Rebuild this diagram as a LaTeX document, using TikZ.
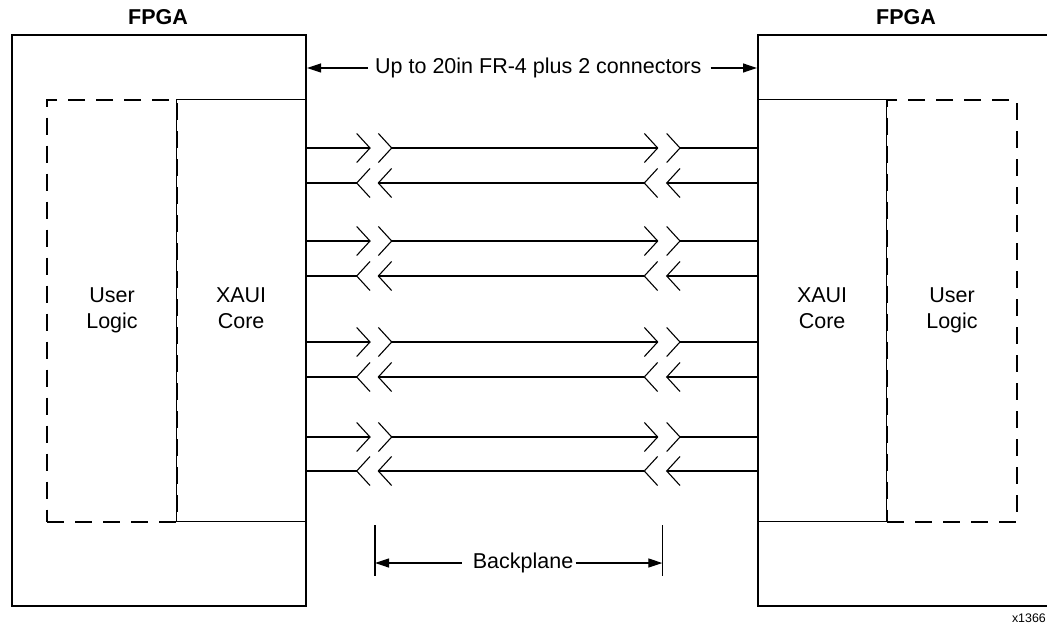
\documentclass[tikz,border=0pt]{standalone}
\usepackage{fontspec}
\setmainfont{Liberation Sans}
\usetikzlibrary{arrows.meta}
\begin{document}
\begin{tikzpicture}[x=1pt,y=-1pt,
  outerbox/.style={draw,line width=2pt,inner sep=0pt,anchor=north west},
  corebox/.style={draw,line width=1.2pt,inner sep=0pt,anchor=north west,align=center,font=\fontsize{21.5}{26}\selectfont},
  userbox/.style={draw,line width=2pt,dash pattern=on 17pt off 11pt,inner sep=0pt,anchor=north west,align=center,font=\fontsize{21.5}{26}\selectfont},
  title/.style={font=\fontsize{21.5}{26}\selectfont\bfseries},
  lbl/.style={font=\fontsize{21.5}{26}\selectfont,inner sep=0pt},
  lane/.style={line width=1.1pt},
  chev/.style={line width=1.1pt},
  dim/.style={line width=1.2pt},
  tip/.style={-{Triangle[length=14pt,width=9pt]}}
]
\useasboundingbox (0,0) rectangle (1047,626);
\begin{scope}
\clip (0,0) rectangle (1047,626);
% FPGA boxes
\node[outerbox,minimum width=294pt,minimum height=571pt] (fl) at (11,34) {};
\node[outerbox,minimum width=299pt,minimum height=571pt] (fr) at (757,34) {};
\node[title] (tl) at (158,17) {FPGA};
\node[title] (tr) at (906,17) {FPGA};
% inner blocks
\node[userbox,minimum width=130pt,minimum height=422pt] (ul) at (46,98.5) {User\\Logic};
\node[corebox,minimum width=129pt,minimum height=422pt] (xl) at (176,98.5) {XAUI\\Core\vphantom{g}};
\node[corebox,minimum width=129pt,minimum height=422pt] (xr) at (757,98.5) {XAUI\\Core\vphantom{g}};
\node[userbox,minimum width=130pt,minimum height=422pt] (ur) at (886,98.5) {User\\Logic};
\end{scope}
% lanes
\foreach \i/\ya/\yb in {1/148/183, 2/241/276, 3/342/377, 4/437/471}{
  % forward lane (left to right)
  \coordinate (fa\i) at (xl.east |- 0,\ya);
  \coordinate (fb\i) at (370,\ya);
  \coordinate (fc\i) at (391.7,\ya);
  \coordinate (fd\i) at (657.7,\ya);
  \coordinate (fe\i) at (680,\ya);
  \coordinate (ff\i) at (xr.west |- 0,\ya);
  \draw[lane] (fa\i) -- (fb\i);
  \draw[lane] (fc\i) -- (fd\i);
  \draw[lane] (fe\i) -- (ff\i);
  \foreach \t in {fb\i,fc\i,fd\i,fe\i}{
    \draw[chev] ([shift={(-13.3,-14.5)}]\t) -- (\t) -- ([shift={(-13.3,14.5)}]\t);
  }
  % reverse lane (right to left)
  \coordinate (ra\i) at (xr.west |- 0,\yb);
  \coordinate (rb\i) at (666.7,\yb);
  \coordinate (rc\i) at (644.3,\yb);
  \coordinate (rd\i) at (378.3,\yb);
  \coordinate (re\i) at (356.7,\yb);
  \coordinate (rf\i) at (xl.east |- 0,\yb);
  \draw[lane] (ra\i) -- (rb\i);
  \draw[lane] (rc\i) -- (rd\i);
  \draw[lane] (re\i) -- (rf\i);
  \foreach \t in {rb\i,rc\i,rd\i,re\i}{
    \draw[chev] ([shift={(13.3,-14.5)}]\t) -- (\t) -- ([shift={(13.3,14.5)}]\t);
  }
}
% top dimension
\node[lbl,anchor=west] (up) at (375,68) {Up to 20in FR-4 plus 2 connectors};
\coordinate (upl) at (fl.east |- 0,68);
\coordinate (upr) at (fr.west |- 0,68);
\draw[dim,tip] ([xshift=-7pt]up.west) -- (upl);
\draw[dim,tip] ([xshift=9pt]up.east) -- (upr);
% backplane dimension
\coordinate (bl1) at (375,525);
\coordinate (bl2) at (375,576);
\coordinate (br1) at (662.3,525);
\coordinate (br2) at (662.3,576);
\draw[dim] (bl1) -- (bl2);
\draw[dim] (br1) -- (br2);
\node[lbl,anchor=west] (bp) at (472.7,563) {Backplane};
\coordinate (bpl) at (375,563);
\coordinate (bpr) at (662.3,563);
\draw[dim,tip] ([xshift=-11pt]bp.west) -- (bpl);
\draw[dim,tip] ([xshift=2pt]bp.east) -- (bpr);
% figure id
\node[font=\fontsize{12.4}{14}\selectfont,anchor=east,inner sep=0pt] (fid) at (1046,618) {x1366};
\end{tikzpicture}
\end{document}
